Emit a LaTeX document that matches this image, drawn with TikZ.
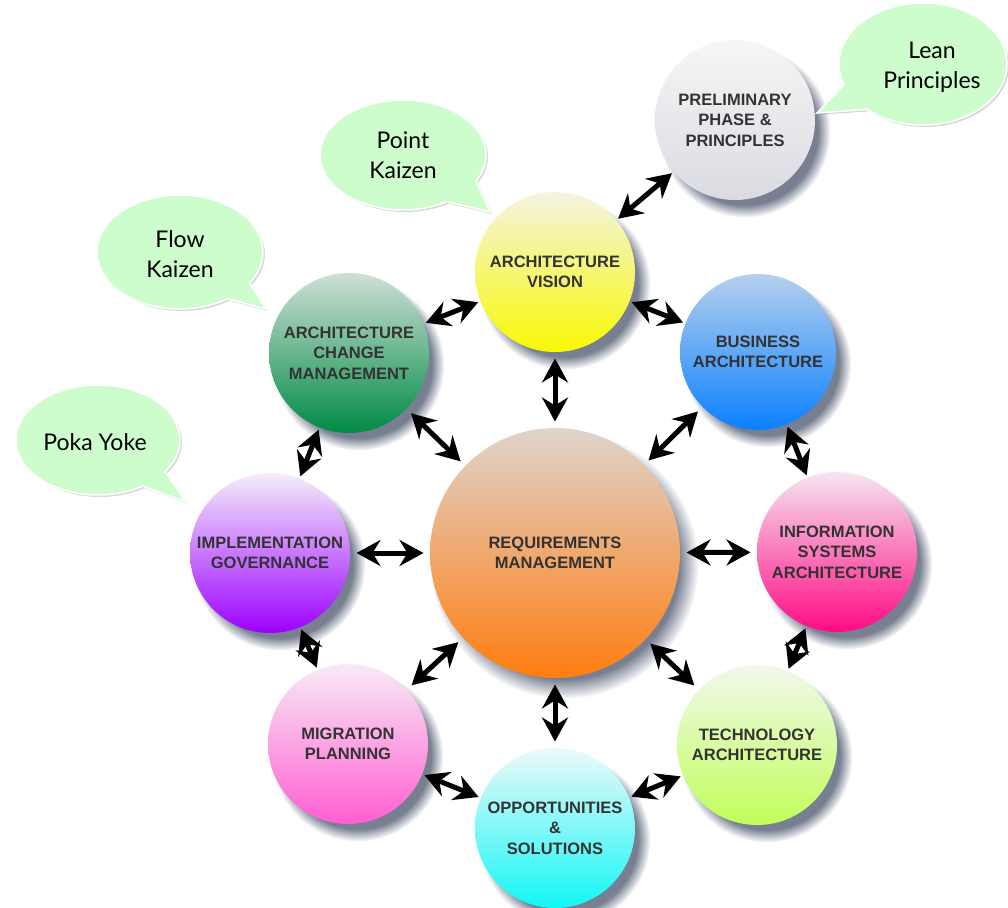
\documentclass[tikz,border=0pt]{standalone}
\usepackage{fontspec}
\setmainfont{Liberation Sans}
\newfontfamily\bubblefont{Lato}
\usetikzlibrary{arrows.meta,shadows}

\definecolor{bubblegreen}{RGB}{205,252,205}
\definecolor{shadowgray}{RGB}{95,105,125}
\definecolor{reqtop}{RGB}{224,212,204}    \definecolor{reqbot}{RGB}{255,125,15}
\definecolor{vistop}{RGB}{244,244,226}    \definecolor{visbot}{RGB}{248,248,4}
\definecolor{pretop}{RGB}{246,246,246}    \definecolor{prebot}{RGB}{218,218,226}
\definecolor{bustop}{RGB}{182,208,238}    \definecolor{busbot}{RGB}{10,128,255}
\definecolor{istop}{RGB}{246,230,240}     \definecolor{isbot}{RGB}{255,10,133}
\definecolor{tectop}{RGB}{242,248,236}    \definecolor{tecbot}{RGB}{192,254,90}
\definecolor{opptop}{RGB}{238,249,249}    \definecolor{oppbot}{RGB}{18,246,246}
\definecolor{migtop}{RGB}{248,234,245}    \definecolor{migbot}{RGB}{255,94,210}
\definecolor{imptop}{RGB}{245,238,250}    \definecolor{impbot}{RGB}{155,0,255}
\definecolor{chgtop}{RGB}{207,224,214}    \definecolor{chgbot}{RGB}{0,138,69}

\begin{document}
\begin{tikzpicture}[x=1pt,y=-1pt,line width=5pt,>={Stealth[length=24pt,width=26pt,inset=8pt]},
  phase/.style={circle,inner sep=0pt,minimum size=160pt,align=center,text=black!80,
    font=\fontsize{16.5}{20.5}\selectfont\bfseries,
    circular drop shadow={shadow xshift=9pt,shadow yshift=-11pt,shadow scale=1.07,opacity=.85,fill=shadowgray}},
  hub/.style={<->,shorten <=4pt,shorten >=4pt},
  link/.style={<->},
  bubble/.style={fill=bubblegreen,draw=white,line width=1.5pt,
    drop shadow={shadow xshift=2pt,shadow yshift=-2pt,opacity=.3}},
  note/.style={align=center,font=\bubblefont\fontsize{23}{30}\selectfont}]
  \useasboundingbox (0,0) rectangle (1008,907);
  % fases del ciclo
  \node[phase,minimum size=250pt,top color=reqtop,bottom color=reqbot] (reqmgmt) at (555,553) {REQUIREMENTS\\MANAGEMENT};
  \node[phase,top color=pretop,bottom color=prebot] (prelim) at (735,120) {PRELIMINARY\\PHASE \&\\PRINCIPLES};
  \node[phase,top color=vistop,bottom color=visbot] (vision) at (555,272) {ARCHITECTURE\\VISION};
  \node[phase,minimum size=156pt,top color=bustop,bottom color=busbot] (busarch) at (758,352) {BUSINESS\\ARCHITECTURE};
  \node[phase,top color=istop,bottom color=isbot] (isarch) at (837,552) {INFORMATION\\SYSTEMS\\ARCHITECTURE};
  \node[phase,top color=tectop,bottom color=tecbot] (techarch) at (757,745) {TECHNOLOGY\\ARCHITECTURE};
  \node[phase,top color=opptop,bottom color=oppbot] (oppsol) at (555,828) {OPPORTUNITIES\\\&\\SOLUTIONS};
  \node[phase,top color=migtop,bottom color=migbot] (migplan) at (348,744) {MIGRATION\\PLANNING};
  \node[phase,top color=imptop,bottom color=impbot] (implgov) at (270,553) {IMPLEMENTATION\\GOVERNANCE};
  \node[phase,top color=chgtop,bottom color=chgbot] (archchg) at (349,353) {ARCHITECTURE\\CHANGE\\MANAGEMENT};
  % bocadillos lean
  \coordinate (leanc) at (923,64);  \coordinate (leant) at (817,113);
  \coordinate (pointc) at (403,155); \coordinate (pointt) at (490,212);
  \coordinate (flowc) at (180,252);  \coordinate (flowt) at (266,309);
  \coordinate (pokac) at (98,440);   \coordinate (pokat) at (186,502);
  \path[bubble] ([shift={(228:84pt and 61pt)}]leanc) arc[start angle=228,end angle=560,x radius=84pt,y radius=61pt] -- (leant) -- cycle;
  \path[bubble] ([shift={(-28:83pt and 55pt)}]pointc) arc[start angle=-28,end angle=302,x radius=83pt,y radius=55pt] -- (pointt) -- cycle;
  \path[bubble] ([shift={(-33:83pt and 57pt)}]flowc) arc[start angle=-33,end angle=305,x radius=83pt,y radius=57pt] -- (flowt) -- cycle;
  \path[bubble] ([shift={(-35:82pt and 55pt)}]pokac) arc[start angle=-35,end angle=303,x radius=82pt,y radius=55pt] -- (pokat) -- cycle;
  \node[note] (lean) at (932,67) {Lean\\Principles};
  \node[note] (point) at (403,155) {Point\\Kaizen};
  \node[note] (flow) at (180,254) {Flow\\Kaizen};
  \node[note] (poka) at (95,442) {Poka Yoke};
  % flechas al centro
  \foreach \ph in {vision,busarch,isarch,techarch,oppsol,migplan,implgov,archchg}
    \draw[hub] (reqmgmt) -- (\ph);
  % flechas entre fases
  \draw[link] (prelim) -- (vision);
  \draw[link] (vision) -- (busarch);
  \draw[link] (busarch) -- (isarch);
  \draw[link] (isarch) -- (techarch);
  \draw[link] (techarch) -- (oppsol);
  \draw[link] (oppsol) -- (migplan);
  \draw[link] (migplan) -- (implgov);
  \draw[link] (implgov) -- (archchg);
  \draw[link] (archchg) -- (vision);
\end{tikzpicture}
\end{document}
